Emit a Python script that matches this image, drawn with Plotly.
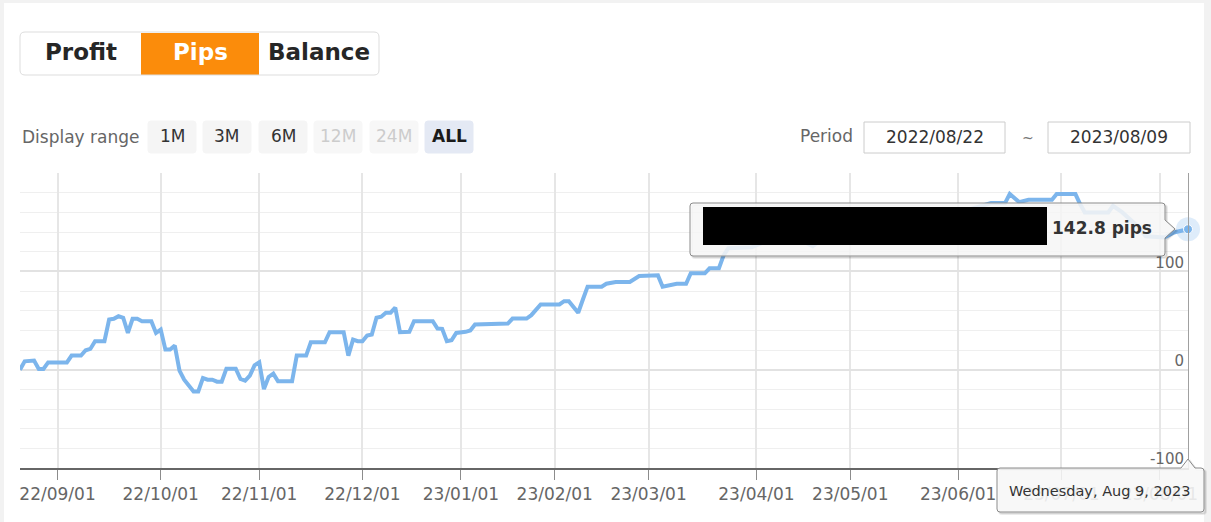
import plotly.graph_objects as go

# ---------------- data ----------------
dates = [
    "2022-08-22", "2022-08-23", "2022-08-25", "2022-08-26", "2022-08-29", "2022-08-30",
    "2022-09-05", "2022-09-06", "2022-09-08", "2022-09-09", "2022-09-12", "2022-09-13",
    "2022-09-15", "2022-09-16", "2022-09-19", "2022-09-20", "2022-09-21", "2022-09-22",
    "2022-09-23", "2022-09-26", "2022-09-27", "2022-09-29", "2022-09-30",
    "2022-10-03", "2022-10-04", "2022-10-05", "2022-10-06", "2022-10-07", "2022-10-10",
    "2022-10-12", "2022-10-13", "2022-10-14", "2022-10-17", "2022-10-18", "2022-10-19",
    "2022-10-20", "2022-10-21", "2022-10-25", "2022-10-26", "2022-10-27", "2022-10-28",
    "2022-10-31",
    "2022-11-01", "2022-11-02", "2022-11-03", "2022-11-04", "2022-11-07", "2022-11-10",
    "2022-11-11", "2022-11-15", "2022-11-16", "2022-11-21", "2022-11-22", "2022-11-25",
    "2022-11-28", "2022-11-29", "2022-11-30",
    "2022-12-01", "2022-12-02", "2022-12-05", "2022-12-06", "2022-12-07", "2022-12-08",
    "2022-12-09", "2022-12-12", "2022-12-13", "2022-12-15", "2022-12-16", "2022-12-22",
    "2022-12-23", "2022-12-27", "2022-12-28", "2022-12-29", "2022-12-30",
    "2023-01-05", "2023-01-06", "2023-01-09", "2023-01-12", "2023-01-18", "2023-01-19",
    "2023-01-24", "2023-01-25", "2023-01-27",
    "2023-02-02", "2023-02-03", "2023-02-06", "2023-02-08", "2023-02-09", "2023-02-10",
    "2023-02-15", "2023-02-16", "2023-02-20", "2023-02-23", "2023-02-27",
    "2023-03-03", "2023-03-06", "2023-03-09", "2023-03-13", "2023-03-14", "2023-03-17",
    "2023-03-20", "2023-03-22", "2023-03-23", "2023-03-24", "2023-03-31",
    "2023-04-06", "2023-04-14", "2023-04-19", "2023-04-21",
    "2023-05-01", "2023-05-09", "2023-05-17", "2023-05-25",
    "2023-06-02", "2023-06-12", "2023-06-15", "2023-06-16", "2023-06-20", "2023-06-22",
    "2023-06-29", "2023-06-30",
    "2023-07-06", "2023-07-07", "2023-07-10", "2023-07-17", "2023-07-18", "2023-07-20",
    "2023-07-25", "2023-07-27",
    "2023-08-02", "2023-08-04", "2023-08-09",
]
pips = [
    0.0, 8.5, 9.2, 0.7, 0.7, 7.4,
    7.4, 14.3, 14.3, 19.7, 21.1, 28.9,
    28.9, 51.0, 51.7, 54.4, 52.8, 37.4,
    51.7, 51.7, 49.3, 49.3, 37.4,
    40.8, 20.4, 20.4, 24.5, -1.0, -10.2,
    -22.1, -22.1, -8.5, -10.2, -10.2, -12.2,
    -12.2, 1.0, 1.0, -9.5, -11.2, -6.1,
    4.4,
    7.4, -19.7, -7.4, -4.1, -11.9, -11.9,
    14.3, 14.3, 27.9, 27.9, 38.1, 38.1,
    14.3, 30.6, 28.9,
    28.9, 34.7, 35.7, 52.8, 53.8, 57.9,
    57.9, 63.0, 38.1, 38.5, 49.3, 49.3,
    41.8, 41.5, 28.9, 29.9, 37.4,
    38.5, 39.8, 45.9, 46.6, 46.9, 52.0,
    52.0, 55.4, 66.3,
    66.3, 69.7, 69.7, 57.9, 71.4, 84.4,
    84.4, 87.4, 89.1, 89.1, 95.2,
    95.9, 84.4, 87.4, 87.4, 98.0, 98.0,
    103.1, 103.1, 116.3, 123.5, 124.5,
    132.7, 132.7, 125.5, 132.7,
    140.8, 144.9, 149.0, 155.0,
    161.0, 169.4, 169.4, 178.6, 170.4, 172.8,
    172.8, 178.6,
    178.6, 168.4, 159.9, 159.9, 166.6, 159.9,
    146.9, 135.7,
    134.4, 139.5, 142.8,
]
assert len(dates) == len(pips)

no_data_days = ["2022-12-26", "2023-01-02", "2023-01-03"]
# first data day of each month (the tick of the ordinal axis)
month_ticks = ["2022-09-01", "2022-10-03", "2022-11-01", "2022-12-01", "2023-01-04",
               "2023-02-01", "2023-03-01", "2023-04-03", "2023-05-01", "2023-06-01",
               "2023-07-03", "2023-08-01"]
month_labels = ["22/09/01", "22/10/01", "22/11/01", "22/12/01", "23/01/01", "23/02/01",
                "23/03/01", "23/04/01", "23/05/01", "23/06/01", "23/07/01", "23/08/01"]
y_ticks = [-100, 0, 100]
y_labels = ["-100", "0", "100"]
y_range = [-100, 200]

tabs = ["Profit", "Pips", "Balance"]
active_tab = "Pips"
range_buttons = ["1M", "3M", "6M", "12M", "24M", "ALL"]
disabled_buttons = ["12M", "24M"]
active_button = "ALL"
period_start = "2022/08/22"
period_end = "2023/08/09"
hover_value_text = "142.8 pips"
hover_date_text = "Wednesday, Aug 9, 2023"

# ---------------- layout geometry (pixels) ----------------
W, H = 1211, 522
ML, MR, MT, MB = 20, 23, 173, 54
PW, PH = W - ML - MR, H - MT - MB
FONT = "DejaVu Sans"
LINE_COLOR = "#7cb5ec"


def px(x):
    return (x - ML) / PW


def py(y):
    return (H - MB - y) / PH


def rect(x0, y0, x1, y1, fill, line=None, lw=1, layer="above"):
    return dict(type="rect", xref="paper", yref="paper",
                x0=px(x0), x1=px(x1), y0=py(y1), y1=py(y0),
                fillcolor=fill, line=dict(color=line or "rgba(0,0,0,0)", width=lw if line else 0),
                layer=layer)


def rr_path(x0, y0, x1, y1, r):
    return (f"M {px(x0 + r)},{py(y0)} L {px(x1 - r)},{py(y0)} "
            f"Q {px(x1)},{py(y0)} {px(x1)},{py(y0 + r)} L {px(x1)},{py(y1 - r)} "
            f"Q {px(x1)},{py(y1)} {px(x1 - r)},{py(y1)} L {px(x0 + r)},{py(y1)} "
            f"Q {px(x0)},{py(y1)} {px(x0)},{py(y1 - r)} L {px(x0)},{py(y0 + r)} "
            f"Q {px(x0)},{py(y0)} {px(x0 + r)},{py(y0)} Z")


def path_shape(path, fill, line, lw=1, layer="above"):
    return dict(type="path", xref="paper", yref="paper", path=path,
                fillcolor=fill, line=dict(color=line, width=lw), layer=layer)


def text(x, y, s, size=17, color="#666", bold=False, anchor="center"):
    return dict(xref="paper", yref="paper", x=px(x), y=py(y), text=f"<b>{s}</b>" if bold else s,
                showarrow=False, xanchor=anchor, yanchor="middle",
                font=dict(family=FONT, size=size, color=color))


shapes = []
annotations = []

# page frame strips
shapes.append(rect(0, 0, 4, H, "#f2f2f2", layer="below"))
shapes.append(rect(0, 0, W, 3, "#f2f2f2", layer="below"))
shapes.append(rect(1204, 0, W, H, "#f2f2f2", layer="below"))

# tab group
tab_x = [(20, 141), (141, 259), (259, 379)]
for (x0, x1), name in zip(tab_x, tabs):
    if name == active_tab:
        shapes.append(rect(x0, 33, x1, 75, "#fb8c0b"))
    annotations.append(text((x0 + x1) / 2, 52, name, size=23,
                            color="#ffffff" if name == active_tab else "#262626", bold=True))
shapes.append(path_shape(rr_path(20, 32, 379, 75, 5), "rgba(0,0,0,0)", "#dddddd", 1))

# display range row
annotations.append(text(20, 137, "Display range", anchor="left"))
btn_x = [148, 203, 259, 314, 370, 425]
for x0, name in zip(btn_x, range_buttons):
    if name == active_button:
        fill, col, bold = "#e4e9f4", "#1a1a1a", True
    elif name in disabled_buttons:
        fill, col, bold = "#f7f7f7", "#cccccc", False
    else:
        fill, col, bold = "#f5f5f5", "#333333", False
    shapes.append(path_shape(rr_path(x0, 121, x0 + 48, 153, 3), fill, fill, 1))
    annotations.append(text(x0 + 24, 136, name, size=17, color=col, bold=bold))

annotations.append(text(826, 136, "Period"))
shapes.append(rect(864, 122, 1005, 153, "#ffffff", "#cccccc"))
shapes.append(rect(1048, 122, 1190, 153, "#ffffff", "#cccccc"))
annotations.append(text(934.5, 137, period_start, size=17, color="#333"))
annotations.append(text(1028, 138, "~", size=14, color="#777"))
annotations.append(text(1119, 137, period_end, size=17, color="#333"))


# value tooltip (callout pointing right to last point)
def callout_right(x0, y0, x1, y1, ay, r=3):
    return (f"M {px(x0 + r)},{py(y0)} L {px(x1 - r)},{py(y0)} "
            f"Q {px(x1)},{py(y0)} {px(x1)},{py(y0 + r)} "
            f"L {px(x1)},{py(ay - 9)} L {px(x1 + 10)},{py(ay)} L {px(x1)},{py(ay + 9)} "
            f"L {px(x1)},{py(y1 - r)} Q {px(x1)},{py(y1)} {px(x1 - r)},{py(y1)} "
            f"L {px(x0 + r)},{py(y1)} Q {px(x0)},{py(y1)} {px(x0)},{py(y1 - r)} "
            f"L {px(x0)},{py(y0 + r)} Q {px(x0)},{py(y0)} {px(x0 + r)},{py(y0)} Z")


shapes.append(path_shape(callout_right(692, 205, 1167, 258, 231), "rgba(0,0,0,0.10)", "rgba(0,0,0,0.08)", 2))
shapes.append(path_shape(callout_right(690, 203, 1165, 256, 229), "rgba(249,249,249,0.86)", "#8a8a8a", 1))
shapes.append(rect(703, 207, 1047, 245, "#000000"))
annotations.append(text(1101.5, 228, hover_value_text, size=17, color="#333", bold=True))


# date tooltip (callout pointing up to axis)
def callout_up(x0, y0, x1, y1, tx, r=3):
    return (f"M {px(x0 + r)},{py(y0)} L {px(tx - 7)},{py(y0)} L {px(tx)},{py(y0 - 9)} "
            f"L {px(tx + 7)},{py(y0)} L {px(x1 - r)},{py(y0)} "
            f"Q {px(x1)},{py(y0)} {px(x1)},{py(y0 + r)} L {px(x1)},{py(y1 - r)} "
            f"Q {px(x1)},{py(y1)} {px(x1 - r)},{py(y1)} L {px(x0 + r)},{py(y1)} "
            f"Q {px(x0)},{py(y1)} {px(x0)},{py(y1 - r)} L {px(x0)},{py(y0 + r)} "
            f"Q {px(x0)},{py(y0)} {px(x0 + r)},{py(y0)} Z")


shapes.append(path_shape(callout_up(999, 470, 1206, 514, 1190), "rgba(0,0,0,0.10)", "rgba(0,0,0,0.08)", 2))
shapes.append(path_shape(callout_up(997, 468, 1204, 512, 1188), "rgba(250,250,250,0.88)", "#8a8a8a", 1))
annotations.append(text(1099.5, 491, hover_date_text, size=14.5, color="#333"))

# ---------------- figure ----------------
fig = go.Figure()
fig.add_trace(go.Scatter(x=dates, y=pips, mode="lines",
                         line=dict(color=LINE_COLOR, width=4), hoverinfo="skip"))
fig.add_trace(go.Scatter(x=[dates[-1]], y=[pips[-1]], mode="markers", cliponaxis=False,
                         marker=dict(size=24, color="rgba(124,181,236,0.25)"), hoverinfo="skip"))
fig.add_trace(go.Scatter(x=[dates[-1]], y=[pips[-1]], mode="markers", cliponaxis=False,
                         marker=dict(size=9, color=LINE_COLOR, line=dict(color="#ffffff", width=1)),
                         hoverinfo="skip"))

fig.update_layout(
    width=W, height=H,
    margin=dict(l=ML, r=MR, t=MT, b=MB, pad=0),
    paper_bgcolor="#ffffff", plot_bgcolor="#ffffff",
    showlegend=False,
    font=dict(family=FONT, size=17, color="#666"),
    shapes=shapes, annotations=annotations,
    xaxis=dict(
        type="date", range=[dates[0], dates[-1]],
        rangebreaks=[dict(bounds=["sat", "mon"]), dict(values=no_data_days)],
        tickmode="array", tickvals=month_ticks, ticktext=month_labels,
        showgrid=True, gridcolor="#e6e6e6", gridwidth=1.5,
        showline=True, linecolor="#666666", linewidth=2,
        ticks="outside", ticklen=10, tickcolor="#8c8c8c", tickwidth=1,
        tickfont=dict(family=FONT, size=17, color="#666"),
        zeroline=False, fixedrange=True,
    ),
    yaxis=dict(
        range=y_range, side="right",
        tickmode="array", tickvals=y_ticks, ticktext=y_labels,
        ticklabelposition="inside", ticklabelstandoff=4, ticklabelshift=-9,
        ticklabeloverflow="allow",
        tickfont=dict(family=FONT, size=15, color="#666"),
        showgrid=True, gridcolor="#e2e2e2", gridwidth=2,
        minor=dict(tick0=0, dtick=20, showgrid=True, gridcolor="#efefef", gridwidth=1),
        zeroline=False, showline=True, linecolor="#a0a0a0", linewidth=1,
        ticks="", fixedrange=True,
    ),
)

fig.write_html("out.html", config={"displayModeBar": False},
               post_script="document.body.style.margin='0';")
